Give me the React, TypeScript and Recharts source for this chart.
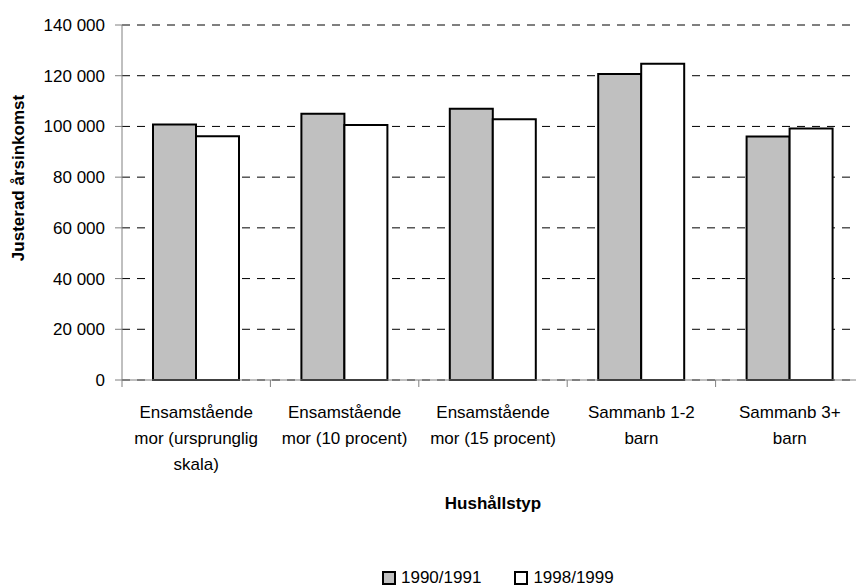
import React from 'react';
import { BarChart, Bar, XAxis, YAxis, CartesianGrid } from 'recharts';

// Hushållstyp (radbrytningar som i originalet)
const categories = [
    'Ensamstående\nmor (ursprunglig\nskala)',
    'Ensamstående\nmor (10 procent)',
    'Ensamstående\nmor (15 procent)',
    'Sammanb 1-2\nbarn',
    'Sammanb 3+\nbarn',
];
const income1990 = [100800, 105000, 107000, 120700, 96000];
const income1998 = [96100, 100600, 102800, 124700, 99200];
const yTicks = [0, 20000, 40000, 60000, 80000, 100000, 120000, 140000];

const seriesNames = ['1990/1991', '1998/1999'];
const seriesFills = ['#c0c0c0', '#ffffff'];

const FONT = "'Liberation Sans', Arial, sans-serif";
const CHART_W = 880;
const CHART_H = 587;
const Y_AXIS_W = 122;
const MARGIN = { top: 25, right: 16, left: 0, bottom: 0 };
const X_AXIS_H = 207;
const BAND = (CHART_W - MARGIN.right - Y_AXIS_W) / categories.length;

const data = categories.map((name, i) => ({
    name,
    a: income1990[i],
    b: income1998[i],
}));

const fmt = (v: number) => String(v).replace(/\B(?=(\d{3})+(?!\d))/g, ' ');

function CategoryTick(props: any) {
    const { x, y, payload, index } = props;
    const lines = String(payload.value).split('\n');
    const isLast = index === categories.length - 1;
    return (
        <g>
            <line x1={x - BAND / 2} y1={y} x2={x - BAND / 2} y2={y + 7} stroke="#808080" />
            {isLast && <line x1={x + BAND / 2} y1={y} x2={x + BAND / 2} y2={y + 7} stroke="#808080" />}
            <text x={x} y={y + 38} textAnchor="middle" fontSize={17} fontFamily={FONT} fill="#000">
                {lines.map((l, i) => (
                    <tspan key={i} x={x} dy={i === 0 ? 0 : 26}>{l}</tspan>
                ))}
            </text>
        </g>
    );
}

export default function App() {
    return (
        <div style={{ position: 'absolute', left: 0, top: 0, width: 856, height: 587, overflow: 'hidden', background: '#fff' }}>
            <BarChart
                width={CHART_W}
                height={CHART_H}
                data={data}
                margin={MARGIN}
                barCategoryGap={31}
                barGap={0}
            >
                <CartesianGrid vertical={false} stroke="#000" strokeDasharray="8 7" />
                <XAxis
                    dataKey="name"
                    height={X_AXIS_H}
                    stroke="#808080"
                    tickLine={false}
                    tickSize={0}
                    tickMargin={0}
                    interval={0}
                    tick={<CategoryTick />}
                    label={{
                        content: () => (
                            <text x={493} y={509} textAnchor="middle" fontSize={17} fontWeight="bold" fontFamily={FONT} fill="#000">
                                Hushållstyp
                            </text>
                        ),
                    }}
                />
                <YAxis
                    width={Y_AXIS_W}
                    domain={[0, 140000]}
                    ticks={yTicks}
                    tickFormatter={fmt}
                    stroke="#808080"
                    tickSize={7}
                    tickMargin={10}
                    tick={{ fill: '#000', fontSize: 17, fontFamily: FONT }}
                    label={{
                        content: () => (
                            <text x={24} y={178} transform="rotate(-90 24 178)" textAnchor="middle" fontSize={17} fontWeight="bold" fontFamily={FONT} fill="#000">
                                Justerad årsinkomst
                            </text>
                        ),
                    }}
                />
                <Bar dataKey="a" name={seriesNames[0]} fill={seriesFills[0]} stroke="#000" strokeWidth={2} isAnimationActive={false} />
                <Bar dataKey="b" name={seriesNames[1]} fill={seriesFills[1]} stroke="#000" strokeWidth={2} isAnimationActive={false} />
            </BarChart>
            <div style={{ position: 'absolute', left: 382, top: 568, display: 'flex', alignItems: 'center', fontFamily: FONT, fontSize: 17, color: '#000', lineHeight: '20px' }}>
                {seriesNames.map((n, i) => (
                    <div key={n} style={{ display: 'flex', alignItems: 'center', marginRight: 33 }}>
                        <span style={{ width: 10, height: 10, border: '2px solid #000', background: seriesFills[i], marginRight: 5, display: 'inline-block' }} />
                        <span>{n}</span>
                    </div>
                ))}
            </div>
        </div>
    );
}
